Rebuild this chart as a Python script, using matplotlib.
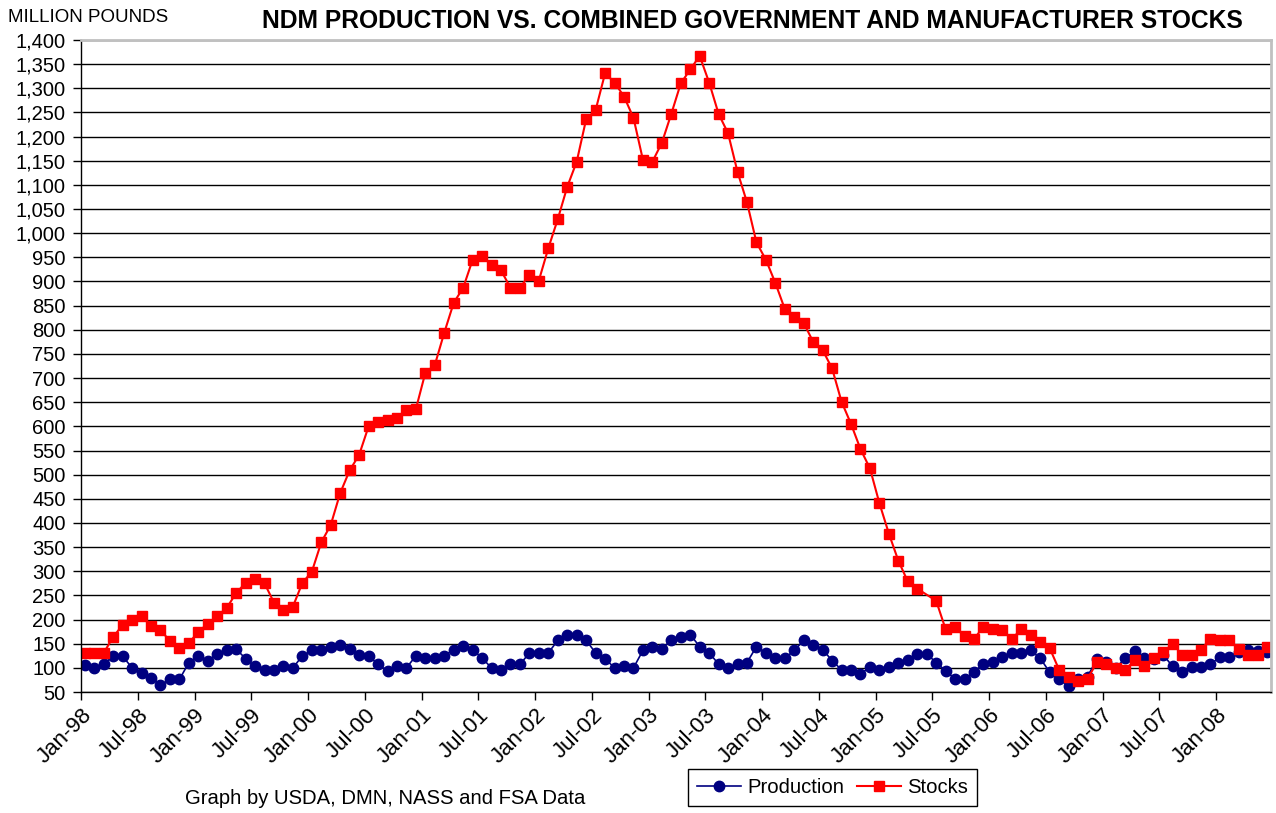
import numpy as np
import matplotlib
matplotlib.use("Agg")
import matplotlib.pyplot as plt
from matplotlib.ticker import FuncFormatter

plt.rcParams['font.family'] = ['Liberation Sans', 'DejaVu Sans']

# monthly values, Jan-98 .. Jun-08 (million pounds)
production = [
    106, 100, 108, 124, 124, 100, 89, 80, 64, 77, 76, 111, 124, 115, 129, 136, 139, 119,
    103, 95, 95, 104, 100, 125, 136, 136, 144, 148, 139, 127, 124, 108, 93, 104, 100, 125,
    120, 120, 125, 138, 146, 138, 120, 100, 96, 108, 107, 131, 131, 131, 157, 169, 169, 157,
    131, 119, 100, 103, 100, 136, 144, 139, 158, 163, 169, 144, 131, 108, 100, 108, 111, 144,
    131, 120, 120, 136, 157, 148, 138, 115, 96, 96, 88, 101, 96, 101, 111, 117, 129, 129,
    111, 94, 77, 77, 91, 109, 112, 122, 131, 131, 136, 120, 91, 76, 63, 76, 82, 118,
    112, 100, 120, 134, 120, 118, 127, 103, 91, 101, 101, 108, 122, 122, 133, 138, 134, 133,
]
stocks = [
    131, 131, 131, 164, 189, 200, 207, 187, 179, 155, 141, 151, 175, 191, 207, 224, 255, 276,
    283, 275, 235, 219, 227, 276, 299, 360, 396, 462, 509, 541, 600, 609, 614, 617, 633, 636,
    711, 727, 794, 856, 887, 945, 953, 935, 923, 887, 887, 914, 902, 969, 1029, 1096, 1148, 1236,
    1255, 1331, 1312, 1283, 1239, 1152, 1148, 1187, 1247, 1310, 1339, 1367, 1312, 1247, 1207, 1127,
    1064, 981, 945, 897, 843, 826, 814, 775, 758, 720, 651, 605, 553, 513, 441, 378, 322, 279,
    264, np.nan, 239, 180, 185, 165, 160, 185, 180, 178, 160, 180, 169, 153, 141, 96, 81, 72,
    77, 112, 109, 100, 95, 117, 104, 120, 132, 150, 127, 127, 138, 160, 157, 157, 139, 127, 127, 143,
]
tick_labels = ['Jan-98', 'Jul-98', 'Jan-99', 'Jul-99', 'Jan-00', 'Jul-00', 'Jan-01', 'Jul-01',
               'Jan-02', 'Jul-02', 'Jan-03', 'Jul-03', 'Jan-04', 'Jul-04', 'Jan-05', 'Jul-05',
               'Jan-06', 'Jul-06', 'Jan-07', 'Jul-07', 'Jan-08']

prod = np.array(production, dtype=float)
stk = np.array(stocks, dtype=float)
x = np.arange(len(prod))
ok = ~np.isnan(stk)

fig = plt.figure(figsize=(12.76, 8.13), dpi=100)
ax = fig.add_axes([0.0635, 0.1488, 0.9326, 0.802])

ax.plot(x, prod, color='#000080', lw=1.2, marker='o', ms=7.5, label='Production')
ax.plot(x[ok], stk[ok], color='#ff0000', lw=1.5, marker='s', ms=7.5, label='Stocks')

ax.set_ylim(50, 1400)
ax.set_yticks(np.arange(50, 1401, 50))
ax.yaxis.set_major_formatter(FuncFormatter(lambda v, p: '{:,.0f}'.format(v)))
ax.set_xlim(-0.4, 125.4)
ax.set_xticks(np.arange(0, len(prod), 6) - 0.4)
ax.set_xticklabels(tick_labels, rotation=45, ha='right', va='top', rotation_mode='anchor')

ax.set_axisbelow(True)
ax.yaxis.grid(True, color='black', lw=1.0)
ax.tick_params(axis='y', labelsize=14.5, length=6, width=1, pad=5, direction='out')
ax.tick_params(axis='x', labelsize=16, length=6, width=1, pad=3, direction='out')
for s in ['top', 'right']:
    ax.spines[s].set_color('#c0c0c0')
    ax.spines[s].set_linewidth(2)
for s in ['left', 'bottom']:
    ax.spines[s].set_color('black')
    ax.spines[s].set_linewidth(1)

fig.text(0.006, 0.978, 'MILLION POUNDS', fontsize=13.5, va='center', ha='left')
fig.text(0.59, 0.974, 'NDM PRODUCTION VS. COMBINED GOVERNMENT AND MANUFACTURER STOCKS',
         fontsize=17.7, fontweight='bold', va='center', ha='center')
fig.text(0.145, 0.018, 'Graph by USDA, DMN, NASS and FSA Data', fontsize=14.6, va='center', ha='left')

leg = fig.legend(loc='lower left', bbox_to_anchor=(0.531, -0.004), ncol=2, fontsize=14.6,
                 frameon=True, fancybox=False, edgecolor='black', framealpha=1,
                 borderpad=0.45, handlelength=2.2, columnspacing=0.6, handletextpad=0.3)
leg.get_frame().set_linewidth(1.0)

fig.savefig('out.png', dpi=100)
